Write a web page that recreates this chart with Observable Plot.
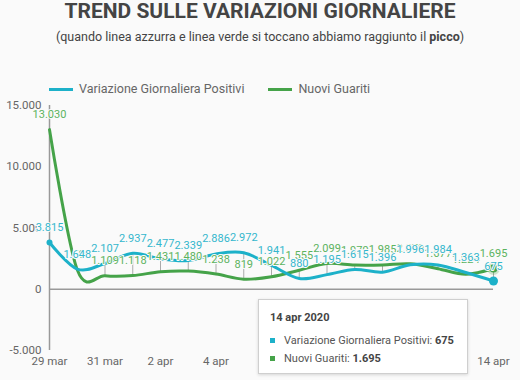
<!DOCTYPE html>
<html>
<head>
<meta charset="utf-8">
<script src="https://cdn.jsdelivr.net/npm/d3@7"></script>
<script src="https://cdn.jsdelivr.net/npm/@observablehq/plot@0.6"></script>
<style>
  html, body { margin: 0; padding: 0; background: #fafafa; }
  body { font-family: Roboto, "Noto Sans", sans-serif; }
  #wrap { position: relative; width: 520px; height: 380px; overflow: hidden; }
  .title { position: absolute; left: 0; top: 1px; width: 520px; text-align: center; font-size: 21px; line-height: 21px; font-weight: 700; color: #444; }
  .sub { position: absolute; left: 0; top: 29px; width: 520px; text-align: center; font-size: 12.5px; line-height: 15px; color: #444; }
  .legend { position: absolute; top: 81px; left: 49px; font-size: 12.5px; line-height: 16px; color: #666; display: flex; align-items: center; }
  .sw { display: inline-block; width: 24px; height: 3px; margin-right: 6px; }
  #chart { position: absolute; left: 0; top: 95px; }
  .tip { position: absolute; left: 258px; top: 299px; width: 208px; height: 73px; background: #fff; border: 1px solid #cfcfcf; box-shadow: 0 1px 3px rgba(0,0,0,0.15); font-size: 11px; color: #555; }
  .tip .h { position: absolute; left: 11px; top: 11px; font-weight: 700; color: #444; }
  .tip .r { position: absolute; left: 11px; white-space: nowrap; }
  .tip .sq { display: inline-block; width: 5px; height: 5px; margin-right: 9px; vertical-align: middle; position: relative; top: -1px; }
  .tip b { color: #444; }
</style>
</head>
<body>
<div id="wrap">
  <div class="title">TREND SULLE VARIAZIONI GIORNALIERE</div>
  <div class="sub">(quando linea azzurra e linea verde si toccano abbiamo raggiunto il <b>picco</b>)</div>
  <div class="legend" id="legend"></div>
  <div id="chart"></div>
  <div class="tip" id="tip"></div>
</div>
<script>
const dates = ["2020-03-29","2020-03-30","2020-03-31","2020-04-01","2020-04-02","2020-04-03","2020-04-04","2020-04-05","2020-04-06","2020-04-07","2020-04-08","2020-04-09","2020-04-10","2020-04-11","2020-04-12","2020-04-13","2020-04-14"];
const positivi = [3815,1648,2107,2937,2477,2339,2886,2972,1941,880,1195,1615,1396,1996,1984,1363,675];
const guariti = [13030,1590,1109,1118,1431,1480,1238,819,1022,1555,2099,1979,1985,2079,1677,1224,1695];
const seriesNames = ["Variazione Giornaliera Positivi", "Nuovi Guariti"];
const months = ["gen","feb","mar","apr","mag","giu","lug","ago","set","ott","nov","dic"];
const yTicks = [-5000, 0, 5000, 10000, 15000];

const teal = "#1db1c9";
const green = "#45a349";
const tealText = "#34b7cd";
const greenText = "#5cb35e";
const bg = "#fafafa";

const loc = d3.formatLocale({decimal: ",", thousands: ".", grouping: [3], currency: ["€", ""], minus: "-"});
const fmt = loc.format(",d");

const rows = dates.map((d, i) => ({date: new Date(d + "T00:00:00Z"), pos: positivi[i], gua: guariti[i]}));
const xTicks = rows.filter((d, i) => i % 2 === 0).map(d => d.date);
const last = rows[rows.length - 1];
const dfmt = d => `${d.getUTCDate()} ${months[d.getUTCMonth()]}`;

const chart = Plot.plot({
  width: 520,
  height: 285,
  marginTop: 10,
  marginBottom: 30,
  marginLeft: 49,
  marginRight: 27,
  style: {background: "transparent", fontFamily: "Roboto, sans-serif", color: "#666"},
  x: {type: "utc", domain: [rows[0].date, last.date]},
  y: {domain: [yTicks[0], yTicks[yTicks.length - 1]]},
  marks: [
    Plot.axisY({ticks: yTicks, tickSize: 0, tickPadding: 8, fontSize: 11.5, tickFormat: fmt, label: null}),
    Plot.axisX({ticks: xTicks, tickSize: 0, tickPadding: 6, fontSize: 11.5, tickFormat: dfmt, label: null}),
    Plot.ruleX(rows, {x: "date", y1: d => Math.min(d.pos, d.gua), y2: d => Math.max(d.pos, d.gua), stroke: "#aaa", strokeWidth: 1}),
    Plot.ruleX([rows[0].date], {y1: yTicks[0], y2: yTicks[yTicks.length - 1], stroke: "#999", strokeWidth: 1.5}),
    Plot.ruleY([0], {stroke: "#999", strokeWidth: 1.5}),
    Plot.line(rows, {x: "date", y: "gua", stroke: green, strokeWidth: 3, curve: "cardinal"}),
    Plot.line(rows, {x: "date", y: "pos", stroke: teal, strokeWidth: 3, curve: "cardinal"}),
    Plot.dot([rows[0]], {x: "date", y: "pos", r: 3, fill: teal}),
    Plot.dot([last], {x: "date", y: "gua", r: 6.5, fill: green, fillOpacity: 0.25}),
    Plot.dot([last], {x: "date", y: "gua", r: 4, fill: green}),
    Plot.dot([last], {x: "date", y: "pos", r: 4.5, fill: teal}),
    Plot.text(rows, {x: "date", y: "gua", text: d => fmt(d.gua), dy: -15, fill: greenText, stroke: bg, strokeWidth: 2, fontSize: 11}),
    Plot.text(rows, {x: "date", y: "pos", text: d => fmt(d.pos), dy: -15, fill: tealText, stroke: bg, strokeWidth: 2, fontSize: 11})
  ]
});
document.getElementById("chart").appendChild(chart);

const legend = document.getElementById("legend");
[[seriesNames[0], teal], [seriesNames[1], green]].forEach(([name, c], i) => {
  const item = document.createElement("span");
  item.style.display = "inline-flex";
  item.style.alignItems = "center";
  if (i > 0) item.style.marginLeft = "24px";
  item.innerHTML = `<span class="sw" style="background:${c}"></span>${name}`;
  legend.appendChild(item);
});

const tip = document.getElementById("tip");
tip.innerHTML = `<div class="h">${dfmt(last.date)} ${last.date.getUTCFullYear()}</div>
<div class="r" style="top:34px"><span class="sq" style="background:${teal}"></span>${seriesNames[0]}: <b>${fmt(last.pos)}</b></div>
<div class="r" style="top:52px"><span class="sq" style="background:${green}"></span>${seriesNames[1]}: <b>${fmt(last.gua)}</b></div>`;
</script>
</body>
</html>
